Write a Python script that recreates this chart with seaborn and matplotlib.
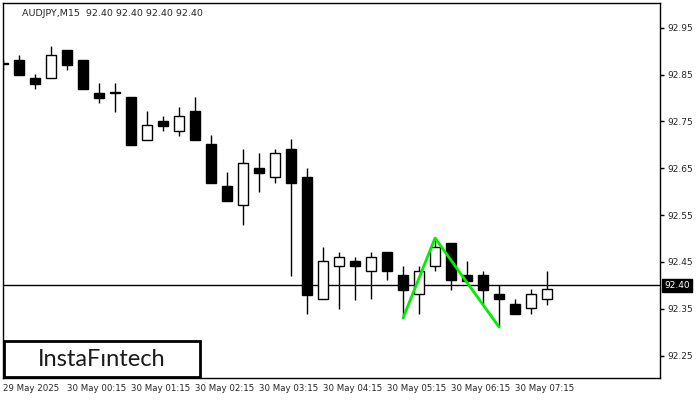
import numpy as np
import pandas as pd
import seaborn as sns
import matplotlib.pyplot as plt
from matplotlib.patches import Rectangle

# AUDJPY M15 candles, 29 May 23:15 .. 30 May 07:45
opens = [92.873, 92.882, 92.843, 92.843, 92.903, 92.882, 92.811, 92.811, 92.803, 92.711,
         92.751, 92.730, 92.773, 92.702, 92.612, 92.572, 92.651, 92.632, 92.691, 92.632,
         92.371, 92.441, 92.452, 92.431, 92.471, 92.422, 92.382, 92.441, 92.491, 92.422,
         92.422, 92.382, 92.360, 92.352, 92.371]
highs = [92.884, 92.892, 92.852, 92.912, 92.903, 92.882, 92.832, 92.832, 92.803, 92.773,
         92.762, 92.781, 92.803, 92.721, 92.642, 92.691, 92.683, 92.691, 92.713, 92.651,
         92.482, 92.471, 92.461, 92.471, 92.471, 92.441, 92.441, 92.501, 92.491, 92.452,
         92.431, 92.401, 92.371, 92.392, 92.431]
lows = [92.860, 92.850, 92.820, 92.843, 92.860, 92.820, 92.790, 92.771, 92.700, 92.711,
        92.730, 92.719, 92.711, 92.619, 92.580, 92.529, 92.600, 92.619, 92.420, 92.339,
        92.371, 92.350, 92.369, 92.371, 92.412, 92.330, 92.339, 92.431, 92.390, 92.409,
        92.360, 92.311, 92.339, 92.339, 92.358]
closes = [92.873, 92.850, 92.830, 92.892, 92.871, 92.820, 92.800, 92.811, 92.700, 92.743,
          92.741, 92.762, 92.711, 92.619, 92.580, 92.662, 92.640, 92.683, 92.619, 92.379,
          92.452, 92.461, 92.441, 92.461, 92.431, 92.390, 92.431, 92.482, 92.412, 92.409,
          92.390, 92.371, 92.339, 92.382, 92.392]

time_labels = ['29 May 2025', '30 May 00:15', '30 May 01:15', '30 May 02:15', '30 May 03:15',
               '30 May 04:15', '30 May 05:15', '30 May 06:15', '30 May 07:15']
price_ticks = [92.25, 92.35, 92.45, 92.55, 92.65, 92.75, 92.85, 92.95]
last_price = 92.40

# double bottom pattern: low of bar 25, high of bar 27, low of bar 31
pattern = pd.DataFrame({'bar': [25, 27, 31], 'price': [lows[25], highs[27], lows[31]]})

df = pd.DataFrame({'open': opens, 'high': highs, 'low': lows, 'close': closes})
df['bar'] = np.arange(len(df))
df['up'] = df['close'] >= df['open']

sns.set_style('white')
plt.rcParams['font.family'] = ['DejaVu Sans']

fig = plt.figure(figsize=(7, 4), dpi=100)
ax = fig.add_axes([3/700, 22/400, 657/700, 375/400])

ax.vlines(df['bar'], df['low'], df['high'], color='black', lw=1, zorder=2)
body_h = (df['close'] - df['open']).abs().clip(lower=0.0015)
body_b = df[['open', 'close']].min(axis=1)
ax.bar(df['bar'], body_h, bottom=body_b, width=0.68,
       color=np.where(df['up'], 'white', 'black'), edgecolor='black', lw=1, zorder=3)

ax.axhline(last_price, color='black', lw=1, zorder=1)
sns.lineplot(data=pattern, x='bar', y='price', color='#00ee00', lw=2, ax=ax, zorder=4)

ax.set_xlim(0, 41.06)
ax.set_ylim(92.202, 93.003)
ax.set_xlabel('')
ax.set_ylabel('')

ax.set_xticks(range(0, 36, 4))
ax.set_xticklabels(time_labels, ha='left', fontsize=6.2)
ax.yaxis.tick_right()
ax.set_yticks(price_ticks)
ax.set_yticklabels(['%.2f' % p for p in price_ticks], fontsize=6.5)
ax.tick_params(axis='both', direction='out', length=3, width=1, color='black', pad=2)
ax.tick_params(axis='x', pad=1)
for s in ax.spines.values():
    s.set_color('black')
    s.set_linewidth(1)

ax.text(1.006, last_price, '%.2f' % last_price, transform=ax.get_yaxis_transform(),
        color='white', fontsize=6.5, va='center', ha='left',
        bbox=dict(boxstyle='square,pad=0.25', fc='black', ec='black'))

ax.text(19/657, 0.985, 'AUDJPY,M15  92.40 92.40 92.40 92.40', transform=ax.transAxes,
        fontsize=6.8, va='top', ha='left')

fig.patches.append(Rectangle((4/700, 23/400), 196/700, 36/400, transform=fig.transFigure,
                             fc='white', ec='black', lw=2, zorder=5))
fig.text(102/700, 41/400, 'InstaFıntech', fontsize=17, family='Lato', color='#1a1a1a',
         ha='center', va='center', zorder=6)

fig.savefig('out.png', dpi=100)
